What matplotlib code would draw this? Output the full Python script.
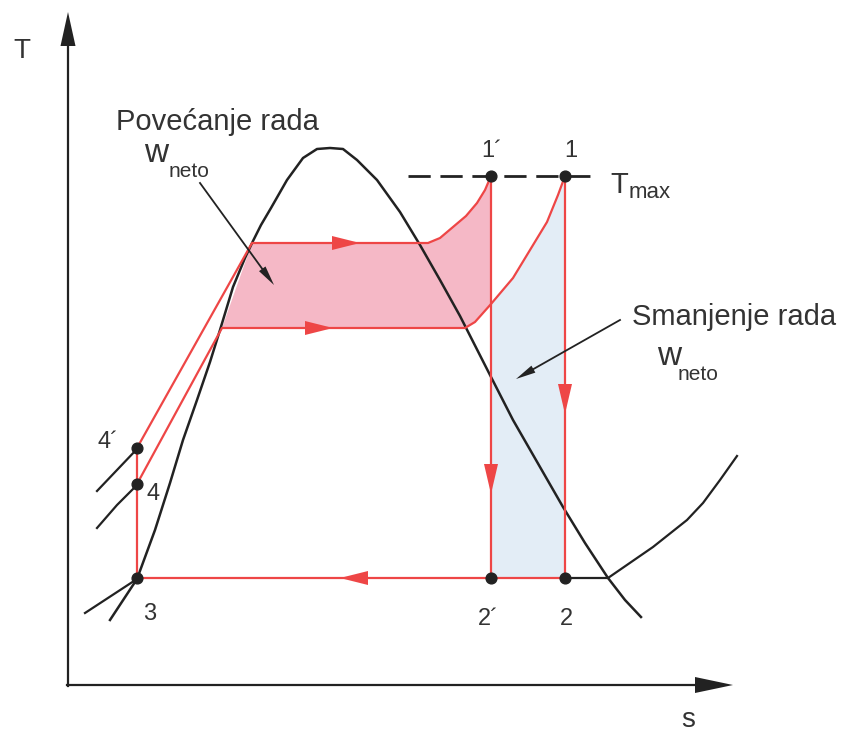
import numpy as np
import matplotlib.pyplot as plt

plt.rcParams['font.family'] = ['Liberation Sans', 'DejaVu Sans']

# saturation dome (s, T) in picture units, T grows upward
dome_s = [110, 137, 155, 170, 183, 197, 210, 220, 233, 245, 253, 261, 271, 287, 303, 317, 330,
          343, 357, 377, 400, 420, 440, 460, 490, 513, 540, 563, 585, 608, 625, 641]
dome_T = [620, 579, 530, 483, 440, 400, 362, 330, 287, 258, 241, 225, 208, 180, 158, 149, 148,
          149, 160, 180, 212, 245, 280, 316, 375, 420, 467, 507, 543, 578, 600, 617]

# isobars (black)
iso_low_left_s = [85, 137]
iso_low_left_T = [613, 579]
iso_4p_s = [97, 117, 137]
iso_4p_T = [491, 470, 449]
iso_4_s = [97, 117, 137]
iso_4_T = [528, 505, 485]
iso_low_right_s = [565, 608, 653, 687, 703, 720, 737]
iso_low_right_T = [578, 578, 547, 520, 503, 480, 456]

# cycle with higher pressure (4' -> 1')
heat_hi_s = [137, 252, 428, 440, 453, 466, 477, 485, 491]
heat_hi_T = [448, 243, 243, 238, 227, 216, 203, 190, 176]
# cycle with lower pressure (4 -> 1)
heat_lo_s = [137, 222, 465, 475, 491, 513, 530, 547, 558, 565]
heat_lo_T = [484, 328, 328, 322, 304, 278, 250, 222, 195, 176]

# state points
pt_names = ["1´", "1", "2´", "2", "3", "4", "4´"]
pt_s = [491, 565, 491, 565, 137, 137, 137]
pt_T = [176, 176, 578, 578, 578, 484, 448]

red = '#ee4646'
dark = '#222222'
txt = '#333333'

fig = plt.figure(figsize=(8.49, 7.33), dpi=100)
ax = fig.add_axes([0, 0, 1, 1])
ax.set_xlim(0, 849)
ax.set_ylim(733, 0)
ax.axis('off')


def head(tip, d, length, width, color):
    # filled triangle arrow head
    d = np.array(d, float)
    d = d / np.hypot(*d)
    n = np.array([-d[1], d[0]])
    tip = np.array(tip, float)
    base = tip - d * length
    p = np.array([tip, base + n * width / 2, base - n * width / 2])
    ax.fill(p[:, 0], p[:, 1], color=color, lw=0, zorder=6)


# fills
s_hi = np.array(heat_hi_s[1:])
T_hi = np.array(heat_hi_T[1:])
s_lo = np.array(heat_lo_s[1:])
T_lo = np.array(heat_lo_T[1:])
k = heat_lo_s.index(pt_s[0])
pink_s = list(s_hi) + list(s_lo[:k][::-1])
pink_T = list(T_hi) + list(T_lo[:k][::-1])
ax.fill(pink_s, pink_T, color='#f5b8c6', lw=0, zorder=1)
blue_s = list(s_lo[k - 1:]) + [pt_s[1], pt_s[2]]
blue_T = list(T_lo[k - 1:]) + [pt_T[3], pt_T[2]]
ax.fill(blue_s, blue_T, color='#e3edf6', lw=0, zorder=1)

# axes arrows
ax.plot([68, 68], [686, 40], color=dark, lw=1.6)
head((68, 12), (0, -1), 34, 15, dark)
ax.plot([67, 700], [685, 685], color=dark, lw=1.6)
head((733, 685), (1, 0), 38, 16, dark)

# dome and isobars
ax.plot(dome_s, dome_T, color=dark, lw=1.8, zorder=3)
ax.plot(iso_low_left_s, iso_low_left_T, color=dark, lw=1.6, zorder=3)
ax.plot(iso_4p_s, iso_4p_T, color=dark, lw=1.6, zorder=3)
ax.plot(iso_4_s, iso_4_T, color=dark, lw=1.6, zorder=3)
ax.plot(iso_low_right_s, iso_low_right_T, color=dark, lw=1.6, zorder=3)

# Tmax dashed
ax.plot([408, 596], [176, 176], color=dark, lw=2, dashes=(8, 3.5), zorder=3)

# red cycle lines
ax.plot(heat_hi_s, heat_hi_T, color=red, lw=1.6, zorder=4)
ax.plot(heat_lo_s, heat_lo_T, color=red, lw=1.6, zorder=4)
ax.plot([pt_s[0], pt_s[2]], [pt_T[0], pt_T[2]], color=red, lw=1.6, zorder=4)
ax.plot([pt_s[1], pt_s[3]], [pt_T[1], pt_T[3]], color=red, lw=1.6, zorder=4)
ax.plot([pt_s[4], pt_s[6]], [pt_T[4], pt_T[6]], color=red, lw=1.6, zorder=4)
ax.plot([pt_s[4], pt_s[3]], [pt_T[4], pt_T[3]], color=red, lw=1.6, zorder=4)

# direction arrows
head((360, 243), (1, 0), 28, 14, red)
head((333, 328), (1, 0), 28, 14, red)
head((340, 578), (-1, 0), 28, 14, red)
head((491, 494), (0, 1), 30, 14, red)
head((565, 414), (0, 1), 30, 14, red)

# state points
ax.scatter(pt_s, pt_T, s=60, color=dark, zorder=7)

# labels for points
lab_s = [481, 571, 478, 566, 150, 153, 98]
lab_T = [157, 157, 625, 625, 620, 500, 448]
lab_ha = ['left', 'center', 'left', 'center', 'center', 'center', 'left']
for n, x, y, h in zip(pt_names, lab_s, lab_T, lab_ha):
    ax.text(x, y, n, fontsize=17, color=txt, ha=h, va='baseline')

ax.text(610, 193, "T", fontsize=21, color=txt, ha='left', va='baseline')
ax.text(629, 198, "max", fontsize=16, color=txt, ha='left', va='baseline')

# axis labels
ax.text(22, 58, "T", fontsize=20, color=txt, ha='center', va='baseline')
ax.text(688, 727, "s", fontsize=20, color=txt, ha='center', va='baseline')

# annotations
ax.text(217, 130, "Povećanje rada", fontsize=21, color=txt, ha='center', va='baseline')
ax.text(144, 162, "w", fontsize=24, color=txt, ha='left', va='baseline')
ax.text(169, 177, "neto", fontsize=15, color=txt, ha='left', va='baseline')
ax.plot([200, 266], [183, 274], color=dark, lw=1.3, zorder=6)
head((274, 285), (74, 102), 20, 8, dark)

ax.text(734, 325, "Smanjenje rada", fontsize=21, color=txt, ha='center', va='baseline')
ax.text(657, 365, "w", fontsize=24, color=txt, ha='left', va='baseline')
ax.text(678, 380, "neto", fontsize=15, color=txt, ha='left', va='baseline')
ax.plot([620, 530], [320, 371], color=dark, lw=1.3, zorder=6)
head((516, 379), (-104, 59), 20, 8, dark)

plt.savefig('out.png', dpi=100)
